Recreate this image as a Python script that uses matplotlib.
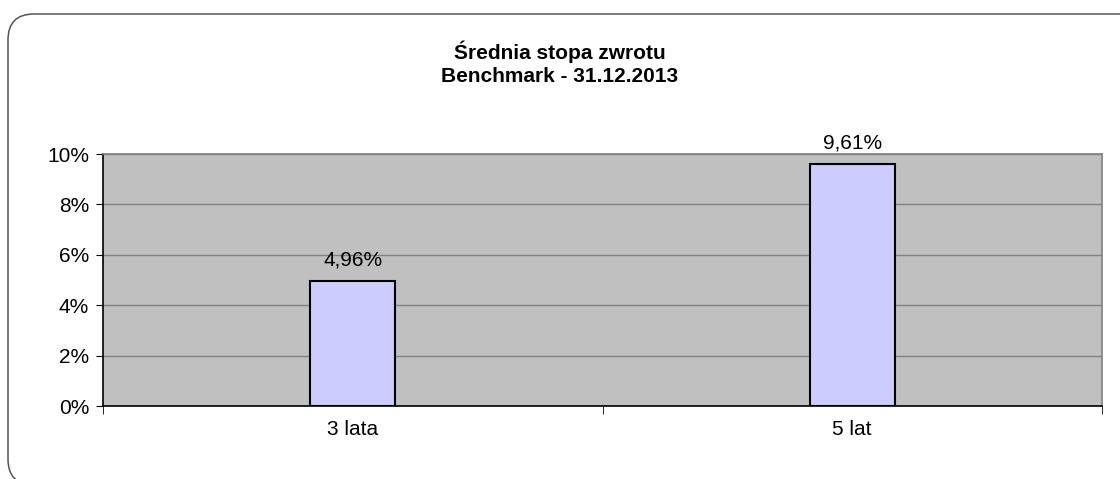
import matplotlib
matplotlib.use('Agg')
import matplotlib.pyplot as plt
from matplotlib.patches import FancyBboxPatch
from matplotlib.ticker import FuncFormatter

categories = ['3 lata', '5 lat']
values = [4.96, 9.61]
labels = ['4,96%', '9,61%']
yticks = [0, 2, 4, 6, 8, 10]

plt.rcParams['font.family'] = ['Liberation Sans', 'DejaVu Sans']

fig = plt.figure(figsize=(11.2, 4.79), dpi=100)

# background axes in pixel units, only for the rounded outer frame
bg = fig.add_axes([0, 0, 1, 1], zorder=0)
bg.set_xlim(0, 1120)
bg.set_ylim(0, 479)
bg.axis('off')
bg.add_patch(FancyBboxPatch((8, -6), 1150, 471,
                            boxstyle='round,pad=0,rounding_size=26',
                            fill=False, edgecolor='#555555', linewidth=1.1,
                            clip_on=False))

ax = fig.add_axes([103 / 1120, 73 / 479, 999 / 1120, 252 / 479], zorder=1)
ax.set_facecolor('#C0C0C0')

x = range(len(categories))
ax.bar(x, values, width=0.17, color='#CCCCFF', edgecolor='black',
       linewidth=1.5, zorder=3)
for xi, v, lab in zip(x, values, labels):
    ax.annotate(lab, (xi, v), xytext=(0, 8), textcoords='offset points',
                ha='center', va='bottom', fontsize=15)

ax.set_xlim(-0.5, 1.5)
ax.set_ylim(0, 10)
ax.set_yticks(yticks)
ax.yaxis.set_major_formatter(FuncFormatter(lambda v, p: '%d%%' % v))
ax.yaxis.grid(True, color='#808080', linewidth=1.0, zorder=1)
ax.set_axisbelow(True)

ax.set_xticks(list(x))
ax.set_xticklabels(categories, fontsize=15)
ax.set_xticks([-0.5, 0.5, 1.5], minor=True)
ax.tick_params(axis='x', which='major', length=0, pad=10)
ax.tick_params(axis='x', which='minor', length=6, direction='out', color='black')
ax.tick_params(axis='y', length=5, direction='out', labelsize=15, pad=5)

ax.spines['left'].set_color('black')
ax.spines['bottom'].set_color('black')
ax.spines['top'].set_color('#808080')
ax.spines['right'].set_color('#808080')
for s in ax.spines.values():
    s.set_linewidth(1.2)

fig.text(0.5, 1 - 52 / 479, u'Średnia stopa zwrotu', ha='center', va='center',
         fontsize=15, fontweight='bold')
fig.text(0.5, 1 - 77 / 479, 'Benchmark - 31.12.2013', ha='center', va='center',
         fontsize=15, fontweight='bold')

plt.savefig('out.png', dpi=100)
plt.close()
